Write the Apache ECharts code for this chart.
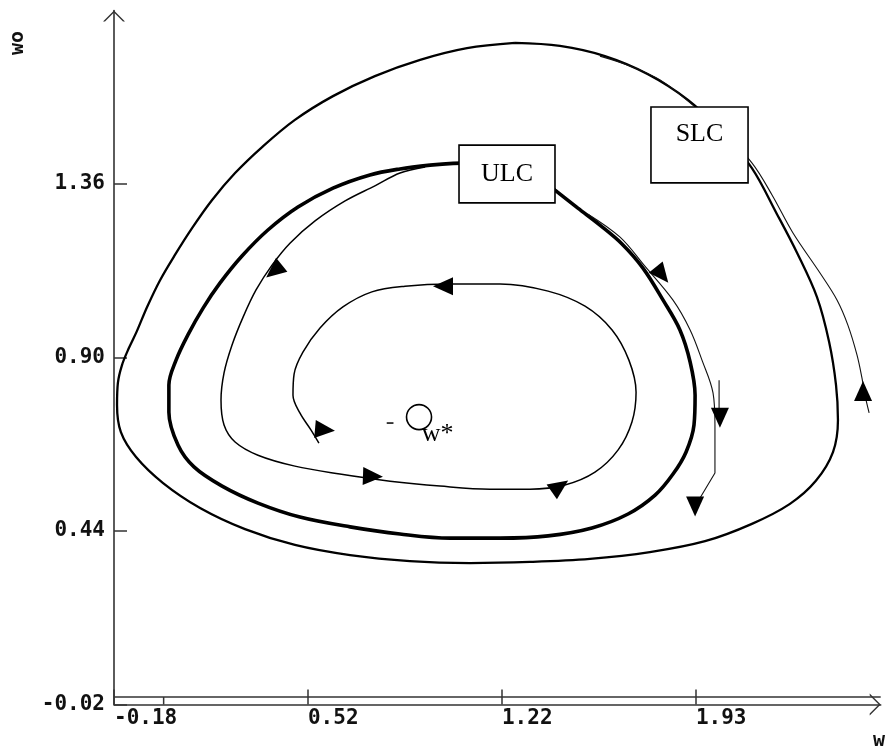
<!DOCTYPE html>
<html><head><meta charset="utf-8">
<script src="https://cdn.jsdelivr.net/npm/echarts@6/dist/echarts.min.js"></script>
<style>html,body{margin:0;padding:0;background:#fff}#c{width:885px;height:749px}</style>
</head><body><div id="c"></div>
<script>
// ---- tick values / labels ----
const xTickValues = [-0.18, 0.5233, 1.2267, 1.93];
const xTickLabels = ['-0.18', '0.52', '1.22', '1.93'];
const yTickValues = [-0.02, 0.44, 0.90, 1.36];
const yTickLabels = ['-0.02', '0.44', '0.90', '1.36'];

// ---- stable limit cycle (SLC) ----
const stableCycle = [[1.274,1.734],[1.437,1.726],[1.600,1.699],[1.756,1.651],[1.901,1.583],[2.025,1.498],[2.133,1.402],[2.224,1.280],[2.297,1.177],[2.369,1.060],[2.413,0.941],[2.438,0.827],[2.445,0.734],[2.427,0.649],[2.365,0.573],[2.271,0.512],[2.133,0.459],[1.963,0.413],[1.763,0.384],[1.546,0.366],[1.328,0.358],[1.111,0.355],[0.893,0.360],[0.676,0.376],[0.476,0.403],[0.295,0.445],[0.132,0.501],[-0.002,0.567],[-0.100,0.636],[-0.155,0.702],[-0.169,0.774],[-0.166,0.832],[-0.151,0.880],[-0.126,0.925],[-0.097,0.970],[-0.060,1.034],[-0.013,1.105],[0.041,1.172],[0.103,1.243],[0.175,1.317],[0.259,1.389],[0.357,1.458],[0.476,1.530],[0.614,1.593],[0.766,1.646],[0.930,1.689],[1.100,1.720],[1.274,1.734]];

// ---- unstable limit cycle (ULC) ----
const unstableCycle = [[0.966,1.410],[1.111,1.416],[1.256,1.405],[1.365,1.376],[1.419,1.344],[1.502,1.296],[1.582,1.251],[1.662,1.201],[1.738,1.137],[1.811,1.052],[1.872,0.973],[1.909,0.888],[1.927,0.800],[1.923,0.721],[1.894,0.649],[1.847,0.591],[1.782,0.535],[1.684,0.485],[1.553,0.448],[1.394,0.427],[1.220,0.421],[1.038,0.421],[0.857,0.432],[0.676,0.451],[0.494,0.477],[0.342,0.514],[0.212,0.559],[0.110,0.610],[0.052,0.668],[0.019,0.755],[0.019,0.827],[0.045,0.893],[0.088,0.960],[0.143,1.031],[0.204,1.097],[0.284,1.169],[0.378,1.238],[0.487,1.299],[0.614,1.349],[0.748,1.384],[0.857,1.400],[0.966,1.410]];

// ---- trajectory inside the ULC, spiralling to w* ----
const innerTrajectory = [[0.948,1.405],[0.857,1.389],[0.766,1.355],[0.658,1.315],[0.549,1.262],[0.458,1.203],[0.393,1.145],[0.335,1.079],[0.288,1.007],[0.248,0.933],[0.219,0.859],[0.208,0.787],[0.219,0.721],[0.259,0.676],[0.342,0.641],[0.476,0.612],[0.639,0.591],[0.821,0.572],[1.002,0.559],[1.183,0.551],[1.328,0.551],[1.455,0.562],[1.564,0.596],[1.648,0.655],[1.698,0.729],[1.713,0.808],[1.687,0.893],[1.626,0.973],[1.528,1.036],[1.394,1.076],[1.220,1.095],[1.038,1.095],[0.875,1.089],[0.755,1.074],[0.650,1.034],[0.567,0.978],[0.505,0.914],[0.473,0.856],[0.469,0.800],[0.494,0.753],[0.534,0.708],[0.563,0.673]];

// ---- trajectory between ULC and SLC (right side) ----
const betweenTrajectory = [[1.539,1.280],[1.655,1.219],[1.745,1.142],[1.847,1.052],[1.909,0.973],[1.952,0.893],[1.992,0.806],[1.999,0.721]];
const betweenTail = [[1.999,0.721],[1.999,0.594],[1.934,0.514]];

// ---- trajectory outside the SLC ----
const outsideTrajectory = [[2.558,0.753],[2.543,0.800],[2.532,0.846],[2.514,0.907],[2.481,0.986],[2.442,1.052],[2.380,1.124],[2.282,1.230],[2.206,1.331],[2.133,1.416],[2.017,1.508],[1.909,1.575],[1.800,1.636],[1.691,1.673],[1.582,1.699]];

// ---- direction arrows: x, y, heading (deg, 0 = up) ----
const arrowX = [0.400, 0.585, 0.759, 1.437, 1.013, 1.807, 2.017, 1.927, 2.536];
const arrowY = [1.129, 0.708, 0.585, 0.559, 1.089, 1.119, 0.740, 0.505, 0.811];
const arrowHeading = [129, -95, -92, -55, 90, -141, 180, 180, 0];
const arrowStem = [[2.014,0.840],[2.014,0.766]];

// ---- equilibrium w* ----
const equilibrium = [0.926, 0.742];

// ---- y = 0 reference line and x = 0 tick ----
const zeroLine = [[-0.18, 0], [2.60, 0]];
const zeroTick = [[0, -0.02], [0, 0]];

// ---- label boxes ----
const boxNames = ['ULC', 'SLC'];
const boxLeft = [1.071, 1.767];
const boxRight = [1.419, 2.119];
const boxTop = [1.463, 1.564];
const boxBottom = [1.310, 1.363];

const boxTextTop = { ULC: null, SLC: 27 };

const chevron = 'path://M0,11 L11,0 L22,11 L20,11 L11,2 L2,11 Z';
const tickFont = { fontFamily: 'DejaVu Sans Mono', fontWeight: 'bold', fontSize: 21, color: '#111' };

function pick(vals, labs) {
  return function (v) {
    for (let i = 0; i < vals.length; i++) if (Math.abs(vals[i] - v) < 1e-6) return labs[i];
    return '';
  };
}

const chart = echarts.init(document.getElementById('c'), null, { renderer: 'canvas' });

const lineBase = { type: 'line', symbol: 'none', silent: true, animation: false };

chart.setOption({
  animation: false,
  backgroundColor: '#fff',
  grid: { left: 114, right: 4.3, top: 10.5, bottom: 44.5, containLabel: false },
  xAxis: {
    type: 'value', min: -0.18, max: 2.60,
    splitLine: { show: false },
    axisLine: { show: true, onZero: false, lineStyle: { color: '#333', width: 1.6 },
      symbol: ['none', chevron], symbolSize: [22, 11], symbolOffset: [0, -5.5] },
    axisTick: { show: true, inside: true, length: 15, customValues: xTickValues, lineStyle: { color: '#333', width: 1.5 } },
    axisLabel: Object.assign({ customValues: xTickValues, formatter: pick(xTickValues, xTickLabels), align: 'left', margin: 4 }, tickFont)
  },
  yAxis: {
    type: 'value', min: -0.02, max: 1.82,
    splitLine: { show: false },
    axisLine: { show: true, onZero: false, lineStyle: { color: '#333', width: 1.6 },
      symbol: ['none', chevron], symbolSize: [22, 11], symbolOffset: [0, -5.5] },
    axisTick: { show: true, inside: true, length: 13, customValues: yTickValues, lineStyle: { color: '#333', width: 1.5 } },
    axisLabel: Object.assign({ customValues: yTickValues, formatter: pick(yTickValues, yTickLabels), margin: 9 }, tickFont)
  },
  graphic: [
    { type: 'text', x: 18, y: 43, rotation: Math.PI / 2, z: 100,
      style: { text: 'wo', font: 'bold 20px "DejaVu Sans Mono"', fill: '#111', textAlign: 'center', textVerticalAlign: 'middle', align: 'center', verticalAlign: 'middle' } },
    { type: 'text', x: 873, y: 741, z: 100,
      style: { text: 'w', font: 'bold 20px "DejaVu Sans Mono"', fill: '#111', textAlign: 'left', textVerticalAlign: 'middle', align: 'left', verticalAlign: 'middle' } }
  ],
  series: [
    Object.assign({}, lineBase, { name: 'y0', data: zeroLine, lineStyle: { color: '#333', width: 1.6 }, z: 1 }),
    Object.assign({}, lineBase, { name: 'x0', data: zeroTick, lineStyle: { color: '#333', width: 1.5 }, z: 1 }),
    Object.assign({}, lineBase, { name: 'SLC', data: stableCycle, smooth: 0.35, lineStyle: { color: '#000', width: 2.3 }, z: 2 }),
    Object.assign({}, lineBase, { name: 'ULC', data: unstableCycle, smooth: 0.35, lineStyle: { color: '#000', width: 3.6 }, z: 2 }),
    Object.assign({}, lineBase, { name: 'inner', data: innerTrajectory, smooth: 0.35, lineStyle: { color: '#000', width: 1.5 }, z: 2 }),
    Object.assign({}, lineBase, { name: 'between', data: betweenTrajectory, smooth: 0.35, lineStyle: { color: '#111', width: 1.1 }, z: 2 }),
    Object.assign({}, lineBase, { name: 'betweenTail', data: betweenTail, smooth: false, lineStyle: { color: '#111', width: 1.1 }, z: 2 }),
    Object.assign({}, lineBase, { name: 'outside', data: outsideTrajectory, smooth: 0.35, lineStyle: { color: '#111', width: 1.1 }, z: 2 }),
    Object.assign({}, lineBase, { name: 'stem', data: arrowStem, lineStyle: { color: '#111', width: 1.1 }, z: 2 }),
    {
      type: 'scatter', name: 'arrows', silent: true, z: 3,
      data: arrowX.map((x, i) => ({ value: [x, arrowY[i]], symbolRotate: arrowHeading[i] })),
      symbol: 'triangle', symbolSize: [18, 20],
      itemStyle: { color: '#000', opacity: 1 }
    },
    {
      type: 'scatter', name: 'w*', silent: true, z: 4,
      data: [equilibrium],
      symbol: 'circle', symbolSize: 25,
      itemStyle: { color: '#fff', borderColor: '#000', borderWidth: 1.6, opacity: 1 },
      label: { show: true, formatter: 'w*', position: [16, 17], fontFamily: 'Liberation Serif', fontSize: 26, color: '#000' }
    },
    {
      type: 'scatter', name: 'dash', silent: true, z: 4,
      data: [equilibrium],
      symbol: 'circle', symbolSize: 2,
      itemStyle: { color: 'rgba(0,0,0,0)' },
      label: { show: true, formatter: '-', position: 'inside', offset: [-29, 5], fontFamily: 'Liberation Serif', fontSize: 26, color: '#000' }
    },
    {
      type: 'custom', name: 'boxes', silent: true, z: 10, clip: false,
      data: boxNames.map((n, i) => [boxLeft[i], boxTop[i], boxRight[i], boxBottom[i]]),
      encode: { x: [0, 2], y: [1, 3] },
      renderItem: function (params, api) {
        const p0 = api.coord([api.value(0), api.value(1)]);
        const p1 = api.coord([api.value(2), api.value(3)]);
        const name = boxNames[params.dataIndex];
        const cx = (p0[0] + p1[0]) / 2;
        const ty = boxTextTop[name] == null ? (p0[1] + p1[1]) / 2 : p0[1] + boxTextTop[name];
        return {
          type: 'group',
          children: [
            { type: 'rect', shape: { x: p0[0], y: p0[1], width: p1[0] - p0[0], height: p1[1] - p0[1] },
              style: { fill: '#fff', stroke: '#000', lineWidth: 1.6 } },
            { type: 'text', style: { text: name, x: cx, y: ty, font: '26px "Liberation Serif"', fill: '#000', align: 'center', verticalAlign: 'middle' } }
          ]
        };
      }
    }
  ]
});
</script>
</body></html>
